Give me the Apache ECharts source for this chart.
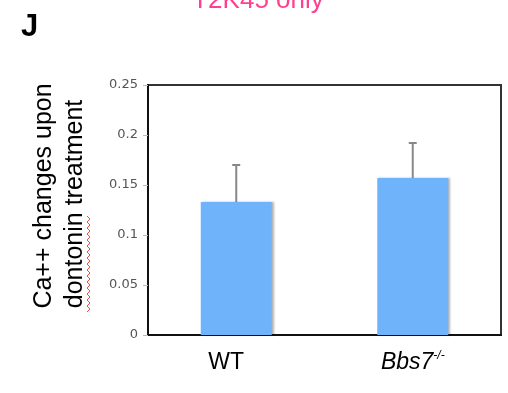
<!DOCTYPE html>
<html>
<head>
<meta charset="utf-8">
<script src="https://cdn.jsdelivr.net/npm/echarts@6/dist/echarts.min.js"></script>
<style>
  html, body { margin: 0; padding: 0; background: #fff; }
  #main { width: 508px; height: 393px; }
</style>
</head>
<body>
<div id="main"></div>
<script>
// groups on the x axis
const categories = ['WT', 'Bbs7']
// mean Ca++ change per group
const means = [0.133, 0.157]
// error (upper only, as in the figure)
const errors = [0.037, 0.035]
// y ticks
const yTicks = [0, 0.05, 0.1, 0.15, 0.2, 0.25]

const chart = echarts.init(document.getElementById('main'))

// red spell-check squiggle under "dontonin"
const squiggle = []
for (let i = 0; i <= 32; i++) {
  squiggle.push([i % 2 === 0 ? 87 : 90, 312 - i * 3])
}

const option = {
  animation: false,
  grid: {
    left: 148,
    top: 85,
    right: 7,
    bottom: 58,
    show: true,
    borderColor: '#333',
    borderWidth: 2
  },
  xAxis: {
    type: 'category',
    data: categories,
    axisLine: { lineStyle: { color: '#111', width: 2 } },
    axisTick: { show: false },
    axisLabel: {
      margin: 15,
      formatter: function (v) {
        if (v === 'WT') return '{wt|WT}'
        return '{i|' + v + '}{sup|-/-}'
      },
      rich: {
        wt: { fontSize: 23, fontFamily: 'Liberation Sans', color: '#000', lineHeight: 26, padding: [0, 20, 0, 0] },
        i: { fontSize: 23, fontFamily: 'Liberation Sans', fontStyle: 'italic', color: '#000', lineHeight: 26 },
        sup: { fontSize: 12, fontFamily: 'Liberation Sans', fontStyle: 'italic', color: '#000', verticalAlign: 'top', lineHeight: 12 }
      }
    }
  },
  yAxis: {
    type: 'value',
    min: 0,
    max: 0.25,
    interval: 0.05,
    splitLine: { show: false },
    axisLine: { show: true, lineStyle: { color: '#111', width: 2 } },
    axisTick: { show: true, length: 5, lineStyle: { color: '#bbb' } },
    axisLabel: {
      margin: 10,
      fontSize: 13,
      fontFamily: 'DejaVu Sans',
      color: '#555',
      formatter: function (v) {
        const t = yTicks.find(x => Math.abs(x - v) < 1e-9)
        return t === undefined ? '' : String(t)
      }
    }
  },
  series: [
    {
      type: 'bar',
      data: means,
      barWidth: 71,
      itemStyle: {
        color: '#6fb4fb',
        shadowColor: 'rgba(0,0,0,0.3)',
        shadowBlur: 2,
        shadowOffsetX: 2
      }
    },
    {
      type: 'custom',
      data: means.map((m, i) => [i, m, m + errors[i]]),
      z: 5,
      renderItem: function (params, api) {
        const base = api.coord([api.value(0), api.value(1)])
        const top = api.coord([api.value(0), api.value(2)])
        const style = { stroke: '#888', lineWidth: 2 }
        return {
          type: 'group',
          children: [
            { type: 'line', shape: { x1: base[0], y1: base[1], x2: top[0], y2: top[1] }, style: style },
            { type: 'line', shape: { x1: top[0] - 4, y1: top[1], x2: top[0] + 4, y2: top[1] }, style: style }
          ]
        }
      }
    }
  ],
  graphic: [
    {
      type: 'text', left: 21, top: 12,
      style: { text: 'J', fontSize: 31, fontWeight: 'bold', fontFamily: 'Liberation Sans', fill: '#000' }
    },
    {
      type: 'text', x: 258, y: 14,
      style: { text: 'T2K45 only', fontSize: 26, fontFamily: 'Liberation Sans', fill: '#ff3f8f', textAlign: 'center', textVerticalAlign: 'bottom' }
    },
    {
      type: 'text', x: 44, y: 196, rotation: Math.PI / 2,
      style: { text: 'Ca++ changes upon', fontSize: 25, fontFamily: 'Liberation Sans', fill: '#000', textAlign: 'center', textVerticalAlign: 'middle' }
    },
    {
      type: 'text', x: 75, y: 204, rotation: Math.PI / 2,
      style: { text: 'dontonin treatment', fontSize: 25, fontFamily: 'Liberation Sans', fill: '#000', textAlign: 'center', textVerticalAlign: 'middle' }
    },
    {
      type: 'polyline',
      shape: { points: squiggle },
      style: { stroke: '#ff4a3a', lineWidth: 1, fill: null }
    }
  ]
}

option && chart.setOption(option)
</script>
</body>
</html>
